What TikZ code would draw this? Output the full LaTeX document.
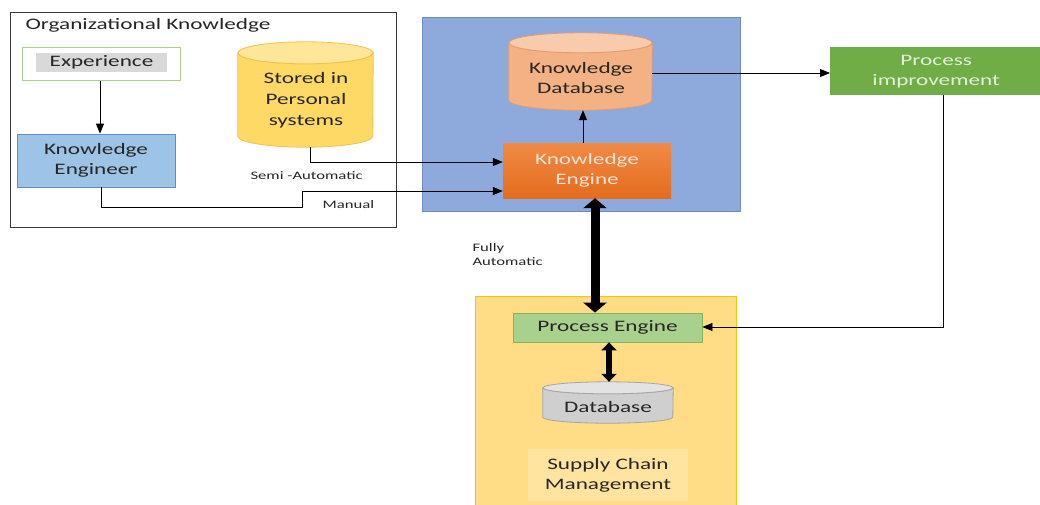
\documentclass[tikz,border=0pt]{standalone}
\usepackage{fontspec}
\setmainfont{Carlito}[FakeStretch=1.45]
\usetikzlibrary{arrows.meta}

\definecolor{txt}{HTML}{262626}
\definecolor{orgline}{HTML}{3A3A3A}
\definecolor{expline}{HTML}{A9D18E}
\definecolor{expgrey}{HTML}{D9D9D9}
\definecolor{engfill}{HTML}{9DC3E6}
\definecolor{engline}{HTML}{5E8FC2}
\definecolor{stbody}{HTML}{FFD966}
\definecolor{stend}{HTML}{FFE699}
\definecolor{stline}{HTML}{F2C14E}
\definecolor{kbfill}{HTML}{8EA9DB}
\definecolor{kbline}{HTML}{6C8CCB}
\definecolor{kdbody}{HTML}{F4B183}
\definecolor{kdend}{HTML}{F8CBAD}
\definecolor{kdline}{HTML}{E59B72}
\definecolor{ketop}{HTML}{F08A45}
\definecolor{kebot}{HTML}{E46C1E}
\definecolor{ketext}{HTML}{FBE5D6}
\definecolor{pifill}{HTML}{70AD47}
\definecolor{pitext}{HTML}{E2F0D9}
\definecolor{scmfill}{HTML}{FFDC85}
\definecolor{scmline}{HTML}{FFC000}
\definecolor{scminner}{HTML}{FFE4A0}
\definecolor{pefill}{HTML}{A9D18E}
\definecolor{peline}{HTML}{7FB45A}
\definecolor{dbbody}{HTML}{CFCFCF}
\definecolor{dbend}{HTML}{E3E3E3}
\definecolor{dbline}{HTML}{A5A5A5}

% Cylinder outline around a rectangular node:
% #1 node, #2 half width, #3 cap radius, #4 body colour, #5 cap colour, #6 line colour
\newcommand\drawdrum[6]{%
  \path[fill=#4, draw=#6, line width=0.8pt]
    ([yshift=-#3]#1.north west) -- ([yshift=#3]#1.south west)
    arc[start angle=180, end angle=360, x radius=#2, y radius=#3]
    -- ([yshift=-#3]#1.north east)
    arc[start angle=0, end angle=-180, x radius=#2, y radius=#3] -- cycle;
  \path[fill=#5, draw=#6, line width=0.8pt]
    ([yshift=-#3]#1.north) ellipse[x radius=#2, y radius=#3];
}

\tikzset{
  x=1pt, y=-1pt,
  lbl/.style={font=\fontsize{16}{20}\selectfont, text=txt, align=center},
  small/.style={font=\fontsize{11.5}{14}\selectfont, text=txt, align=left},
  boxnode/.style={draw, rectangle, inner sep=0pt, lbl},
  drumbox/.style={rectangle, inner sep=0pt},
  conn/.style={draw=black, line width=0.8pt, -{Triangle[length=10pt,width=8pt]}},
  fat/.style={draw=black, line width=9pt,
    {Triangle[length=10pt,width=23pt]}-{Triangle[length=10pt,width=23pt]}},
  midfat/.style={draw=black, line width=5.5pt,
    {Triangle[length=8pt,width=15pt]}-{Triangle[length=8pt,width=15pt]}},
}

\begin{document}
\begin{tikzpicture}
\useasboundingbox (0,0) rectangle (1040,504);
\fill[white] (0,0) rectangle (1040,504);

% ---- Organizational knowledge group
\node[draw=orgline, line width=1pt, fill=white, minimum width=386pt, minimum height=215pt,
      anchor=north west, inner sep=0pt] (org) at (10,12) {};
\node[lbl, anchor=west] (orgtitle) at (22,25) {Organizational Knowledge};

\node[boxnode, draw=expline, line width=1pt, minimum width=158pt, minimum height=33pt]
  (exp) at (101,63.5) {};
\node[fill=expgrey, minimum width=131pt, minimum height=19pt, inner sep=0pt, lbl]
  (expt) at (101.5,62) {Experience};

\node[boxnode, draw=engline, fill=engfill, line width=0.8pt, minimum width=158pt,
      minimum height=53pt] (eng) at (96,160.5) {Knowledge\\Engineer};

\node[drumbox, minimum width=135pt, minimum height=105pt] (store) at (305.5,94.5) {};
\drawdrum{store}{67.5pt}{11pt}{stbody}{stend}{stline}
\node[lbl, font=\fontsize{16}{21}\selectfont] (storetxt) at (306,100.5)
  {Stored in\\Personal\\systems};

% ---- Knowledge base group
\node[draw=kbline, fill=kbfill, line width=1pt, minimum width=318pt, minimum height=194pt,
      anchor=north west, inner sep=0pt] (kb) at (422,17) {};

\node[drumbox, minimum width=143pt, minimum height=77pt] (kdb) at (580.5,71.5) {};
\drawdrum{kdb}{71.5pt}{10pt}{kdbody}{kdend}{kdline}
\node[lbl] (kdbtxt) at (581,78) {Knowledge\\Database};

\node[boxnode, draw=none, top color=ketop, bottom color=kebot, text=ketext,
      minimum width=168pt, minimum height=55pt] (ke) at (587,170.5) {Knowledge\\Engine};

% ---- Process improvement
\node[boxnode, draw=none, fill=pifill, text=pitext, minimum width=212pt, minimum height=48pt,
      anchor=north west] (pi) at (830,47) {Process\\improvement};

% ---- Supply chain management group
\node[draw=scmline, fill=scmfill, line width=1pt, minimum width=261pt, minimum height=212pt,
      anchor=north west, inner sep=0pt] (scm) at (475,296) {};

\node[boxnode, draw=peline, fill=pefill, line width=0.8pt, minimum width=189pt,
      minimum height=29pt] (pe) at (607.5,327.5) {Process Engine};

\node[drumbox, minimum width=130pt, minimum height=41pt] (db) at (608,402.5) {};
\drawdrum{db}{65pt}{6pt}{dbbody}{dbend}{dbline}
\node[lbl] (dbtxt) at (608,406.5) {Database};

\node[fill=scminner, minimum width=160pt, minimum height=52pt, inner sep=0pt, lbl]
  (scmlbl) at (608,475) {Supply Chain\\Management};

% ---- Connector labels
\node[small, anchor=west] (semi) at (247,176) {Semi -Automatic};
\node[small, anchor=west] (manual) at (319,205) {Manual};
\node[small, anchor=north west] (fully) at (469,240) {Fully\\Automatic};

% ---- Connector routing points
\coordinate (xexp) at (100,0);
\coordinate (c1) at (310,162);
\coordinate (c2) at (101,207);
\coordinate (c3) at (302,207);
\coordinate (c4) at (302,191);
\coordinate (c5) at (943,327);
\coordinate (xkd) at (583,0);
\coordinate (ypi) at (0,73);
\coordinate (xfat) at (595,0);
\coordinate (xdb) at (609,0);

% ---- Connectors
\draw[conn] (exp.south -| xexp) -- (eng.north -| xexp);
\draw[conn] (store.south -| c1) -- (c1) -- (ke.west |- c1);
\draw[conn] (eng.south -| c2) -- (c2) -- (c3) -- (c4) -- (ke.west |- c4);
\draw[conn] (ke.north -| xkd) -- (kdb.south -| xkd);
\draw[conn] (kdb.east |- ypi) -- (pi.west |- ypi);
\draw[conn] (pi.south -| c5) -- (c5) -- (pe.east |- c5);
\draw[fat] (ke.south -| xfat) -- (pe.north -| xfat);
\draw[midfat] (pe.south -| xdb) -- (db.north -| xdb);
\end{tikzpicture}
\end{document}
